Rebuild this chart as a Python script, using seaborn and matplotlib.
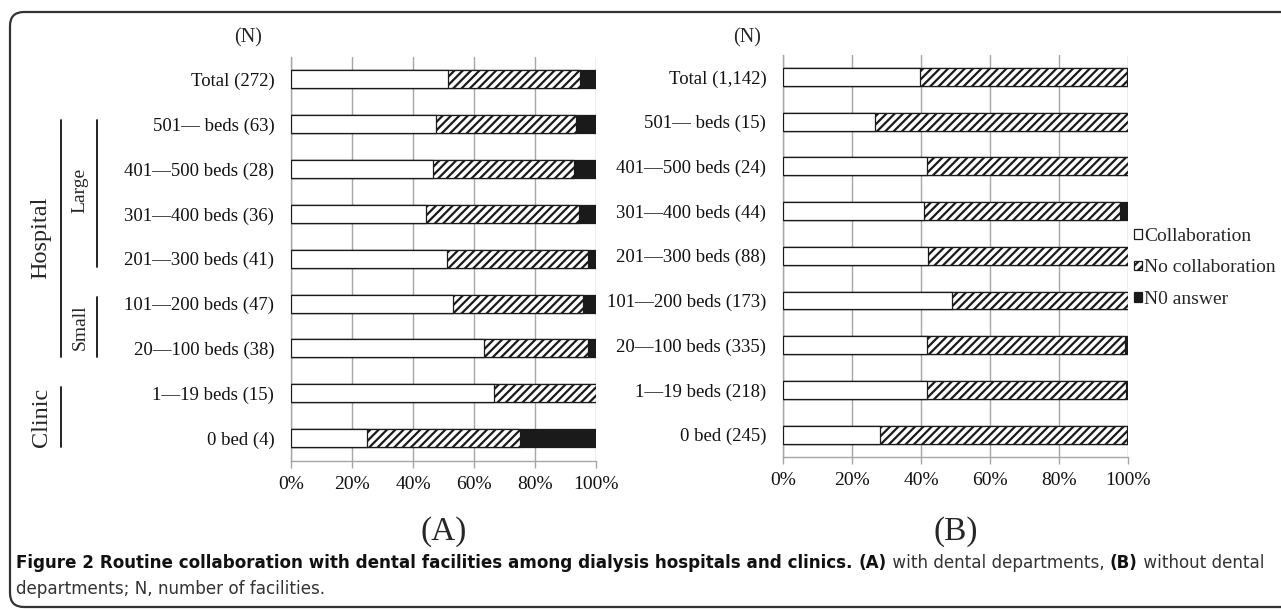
import numpy as np
import pandas as pd
import seaborn as sns
import matplotlib.pyplot as plt
from matplotlib.patches import FancyBboxPatch
from matplotlib.transforms import IdentityTransform

# ---- data (percent of facilities) ----
cats_a = ["Total (272)", "501\u2014 beds (63)", "401\u2014500 beds (28)", "301\u2014400 beds (36)",
          "201\u2014300 beds (41)", "101\u2014200 beds (47)", "20\u2014100 beds (38)",
          "1\u201419 beds (15)", "0 bed (4)"]
collab_a = [51.5, 47.6, 46.4, 44.4, 51.2, 53.2, 63.2, 66.7, 25.0]
nocollab_a = [43.4, 46.0, 46.4, 50.0, 46.3, 42.6, 34.2, 33.3, 50.0]
noanswer_a = [5.1, 6.3, 7.1, 5.6, 2.4, 4.3, 2.6, 0.0, 25.0]

cats_b = ["Total (1,142)", "501\u2014 beds (15)", "401\u2014500 beds (24)", "301\u2014400 beds (44)",
          "201\u2014300 beds (88)", "101\u2014200 beds (173)", "20\u2014100 beds (335)",
          "1\u201419 beds (218)", "0 bed (245)"]
collab_b = [39.8, 26.7, 41.7, 40.9, 42.0, 49.1, 41.8, 41.7, 28.2]
nocollab_b = [60.0, 73.3, 58.3, 56.8, 58.0, 50.9, 57.3, 57.8, 71.4]
noanswer_b = [0.2, 0.0, 0.0, 2.3, 0.0, 0.0, 0.9, 0.5, 0.4]

legend_labels = ["Collaboration", "No collaboration", "N0 answer"]
xticks = [0, 20, 40, 60, 80, 100]

sns.set_style("white")
plt.rcParams["font.family"] = ["Liberation Serif", "DejaVu Serif"]
plt.rcParams["hatch.linewidth"] = 1.6

W, H = 1281, 609
fig = plt.figure(figsize=(W / 100, H / 100), dpi=100)


def fx(x):
    return x / W


def fy(y):
    return 1 - y / H


ax1 = fig.add_axes([fx(291), fy(460.5), 305 / W, 403.5 / H])
ax2 = fig.add_axes([fx(783), fy(457), 345 / W, 402.4 / H])

grey = "#a6a6a6"
ink = "#1a1a1a"


def draw_panel(ax, cats, collab, nocollab, noanswer):
    df = pd.DataFrame({"cat": cats, "collab": collab, "nocollab": nocollab, "noanswer": noanswer})
    df["upto_no"] = df.collab + df.nocollab
    df["upto_all"] = df.upto_no + df.noanswer
    kw = dict(y="cat", orient="h", width=0.4, errorbar=None, saturation=1,
              edgecolor=ink, linewidth=0.9, ax=ax, zorder=3)
    sns.barplot(data=df, x="upto_all", color=ink, **kw)
    sns.barplot(data=df, x="upto_no", color="white", hatch="////", **kw)
    sns.barplot(data=df, x="collab", color="white", **kw)

    ax.set_xlim(0, 100)
    ax.set_ylim(len(cats) - 0.5, -0.5)
    ax.set_xlabel("")
    ax.set_ylabel("")
    ax.set_xticks(xticks)
    ax.set_xticklabels([f"{t}%" for t in xticks], fontsize=14)
    ax.set_yticks(range(len(cats)))
    ax.set_yticklabels(cats, fontsize=13.5)
    ax.set_yticks(np.arange(-0.5, len(cats), 1.0), minor=True)
    ax.tick_params(axis="y", which="major", length=0, pad=12, labelcolor="#111111")
    ax.tick_params(axis="y", which="minor", length=5, width=1, color=grey, direction="out")
    ax.tick_params(axis="x", which="major", length=5, width=1, color=grey, direction="out",
                   pad=6, labelcolor="#111111", bottom=True)
    ax.grid(axis="x", color=grey, linewidth=1, zorder=0)
    ax.set_axisbelow(True)
    for s in ["top", "right"]:
        ax.spines[s].set_visible(False)
    for s in ["left", "bottom"]:
        ax.spines[s].set_color(grey)
        ax.spines[s].set_linewidth(1)


draw_panel(ax1, cats_a, collab_a, nocollab_a, noanswer_a)
draw_panel(ax2, cats_b, collab_b, nocollab_b, noanswer_b)

# legend (containers: black, hatched, white)
c = ax2.containers
ax2.legend([c[2], c[1], c[0]], legend_labels, loc="center left",
           bbox_to_anchor=(fx(1134), fy(268)), bbox_transform=fig.transFigure,
           frameon=False, fontsize=14, borderpad=0, borderaxespad=0,
           handlelength=0.4, handleheight=0.4, handletextpad=0.12, labelspacing=0.75)

# (N) headers and panel letters
fig.text(fx(248), fy(38), "(N)", ha="center", va="center", fontsize=14.5)
fig.text(fx(747), fy(38), "(N)", ha="center", va="center", fontsize=14.5)
fig.text(fx(443.5), fy(532), "(A)", ha="center", va="center", fontsize=24)
fig.text(fx(955.5), fy(532), "(B)", ha="center", va="center", fontsize=24)

# group labels at the left of panel A
fig.text(fx(41), fy(238), "Hospital", rotation=90, ha="center", va="center", fontsize=17.5)
fig.text(fx(41), fy(417), "Clinic", rotation=90, ha="center", va="center", fontsize=17.5)
fig.text(fx(80), fy(190), "Large", rotation=90, ha="center", va="center", fontsize=14)
fig.text(fx(80), fy(327), "Small", rotation=90, ha="center", va="center", fontsize=14)
for x, y0, y1 in [(61, 120, 357), (97, 120, 267), (97, 297, 357), (61, 387, 447)]:
    fig.add_artist(plt.Line2D([fx(x), fx(x)], [fy(y0), fy(y1)], color="#111111", lw=1.3,
                              transform=fig.transFigure))

# frame
frame = FancyBboxPatch((10, H - 607), 1290, 595, boxstyle="round,pad=0,rounding_size=14",
                       transform=IdentityTransform(), fill=False, ec="#333333", lw=1.6)
fig.patches.append(frame)

# caption with mixed weights
cap_font = ["DejaVu Sans"]
renderer = fig.canvas.get_renderer()


def caption_line(pieces, x, y, size=12.1):
    for txt, bold in pieces:
        t = fig.text(fx(x), fy(y), txt, ha="left", va="center", fontsize=size,
                     family=cap_font, weight="bold" if bold else "normal",
                     color="#111111" if bold else "#333333")
        x = t.get_window_extent(renderer).x1


caption_line([("Figure 2 Routine collaboration with dental facilities among dialysis hospitals and clinics. ", True),
              ("(A)", True), (" with dental departments, ", False), ("(B)", True),
              (" without dental", False)], 16, 563)
caption_line([("departments; N, number of facilities.", False)], 16, 589)

fig.savefig("out.png", dpi=100)
